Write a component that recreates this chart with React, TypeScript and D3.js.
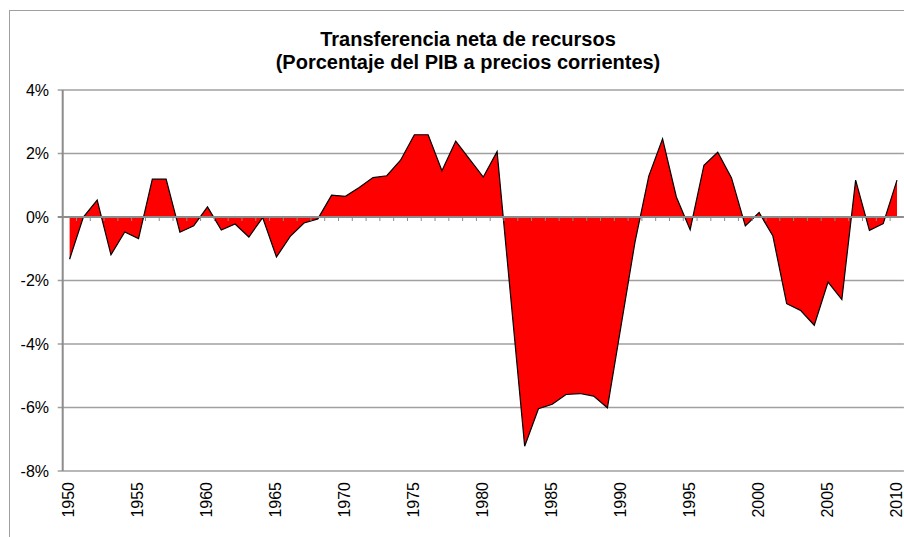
import React from 'react';
import * as d3 from 'd3';

// constants
const width = 904;
const height = 537;
const plot = { left: 62.7, right: 903.9, top: 90, bottom: 471 };

const years = d3.range(1950, 2011);
const values = [
  -1.33, 0.0, 0.53, -1.19, -0.47, -0.68, 1.19, 1.19, -0.48, -0.28,
  0.32, -0.41, -0.22, -0.63, -0.02, -1.26, -0.61, -0.19, -0.06, 0.69,
  0.65, 0.93, 1.24, 1.3, 1.79, 2.59, 2.59, 1.46, 2.39, 1.82,
  1.26, 2.06, -2.58, -7.22, -6.04, -5.9, -5.59, -5.56, -5.64, -6.01,
  -3.4, -0.79, 1.29, 2.46, 0.63, -0.4, 1.63, 2.04, 1.23, -0.28,
  0.14, -0.6, -2.73, -2.94, -3.41, -2.05, -2.6, 1.16, -0.42, -0.21,
  1.16,
];
const yTicks = [-8, -6, -4, -2, 0, 2, 4];
const yearLabels = d3.range(1950, 2011, 5);
const titleLines = ['Transferencia neta de recursos', '(Porcentaje del PIB a precios corrientes)'];

const font = 'Liberation Sans, Arial, sans-serif';

const App = () => {
  const xScale = d3.scaleBand<number>()
    .domain(years)
    .range([plot.left, plot.right])
    .paddingInner(0)
    .paddingOuter(0);
  const cx = (yr: number) => (xScale(yr) as number) + xScale.bandwidth() / 2;
  const yScale = d3.scaleLinear().domain([-8, 4]).range([plot.bottom, plot.top]);

  const data = years.map((yr, i) => ({ yr, v: values[i] }));
  const area = d3.area<{ yr: number; v: number }>()
    .x(d => cx(d.yr))
    .y0(yScale(0))
    .y1(d => yScale(d.v));
  const line = d3.line<{ yr: number; v: number }>()
    .x(d => cx(d.yr))
    .y(d => yScale(d.v));

  const y0 = yScale(0);

  return (
    <svg width={width} height={height} style={{ position: 'absolute', left: 0, top: 0 }}>
      <rect x={0} y={0} width={width} height={height} fill="#fff" />
      <rect x={9.5} y={10.5} width={width + 20} height={height + 20} fill="none" stroke="#a0a0a0" />

      {titleLines.map((t, i) => (
        <text key={i} x={468} y={46 + i * 23} textAnchor="middle" fontFamily={font}
          fontWeight="bold" fontSize={20} fill="#000">{t}</text>
      ))}

      {/* gridlines */}
      {yTicks.filter(t => t !== 0).map(t => (
        <line key={t} x1={plot.left - 5} x2={plot.right} y1={yScale(t)} y2={yScale(t)}
          stroke="#a0a0a0" strokeWidth={1.5} />
      ))}

      <path d={area(data) as string} fill="#ff0000" />
      <path d={line(data) as string} fill="none" stroke="#000" strokeWidth={1.2} strokeLinejoin="miter" />

      {/* zero axis */}
      <line x1={plot.left - 5} x2={plot.right} y1={y0} y2={y0} stroke="#8c8c8c" strokeWidth={2} />
      {years.slice(1).map(yr => (
        <line key={yr} x1={xScale(yr)} x2={xScale(yr)} y1={y0} y2={y0 + 4}
          stroke="#8c8c8c" strokeWidth={1} />
      ))}

      {/* y axis */}
      <line x1={plot.left} x2={plot.left} y1={plot.top} y2={plot.bottom} stroke="#8c8c8c" strokeWidth={2} />
      {yTicks.map(t => (
        <text key={t} x={49} y={yScale(t)} dy="0.35em" textAnchor="end" fontFamily={font}
          fontSize={16} fill="#000">{`${t}%`}</text>
      ))}

      {yearLabels.map(yr => (
        <text key={yr} transform={`translate(${cx(yr) + 4.5},${482}) rotate(-90)`}
          textAnchor="end" fontFamily={font} fontSize={16} fill="#000">{yr}</text>
      ))}
    </svg>
  );
};

export default App;
